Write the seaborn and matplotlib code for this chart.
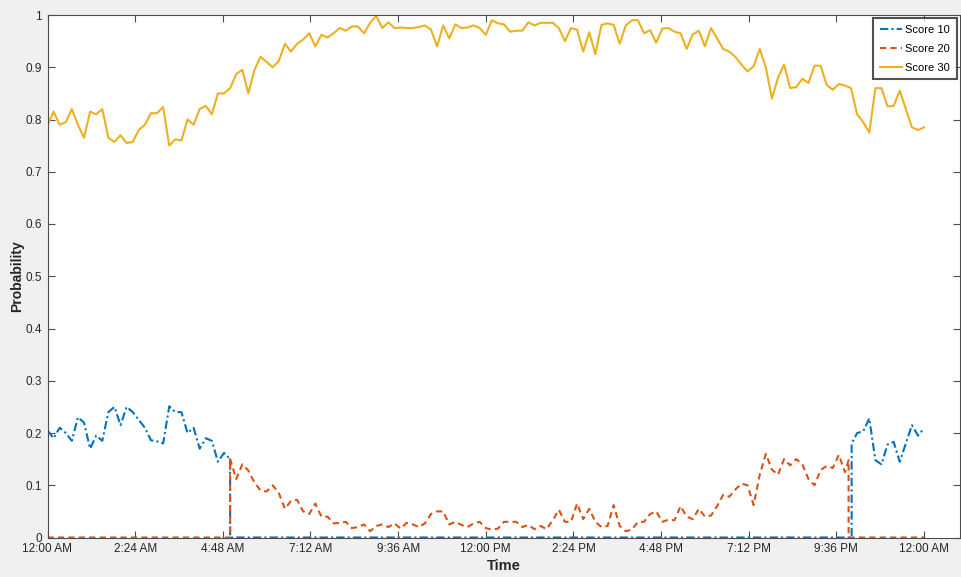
import numpy as np
import pandas as pd
import seaborn as sns
import matplotlib.pyplot as plt

plt.rcParams['font.family'] = ['Liberation Sans', 'DejaVu Sans']

# minutes since midnight, one reading every 10 minutes
minutes = np.arange(0, 1441, 10)

score30 = [0.789, 0.815, 0.79, 0.795, 0.82, 0.79, 0.765, 0.815, 0.81, 0.82,
           0.765, 0.757, 0.77, 0.755, 0.757, 0.78, 0.79, 0.812, 0.812, 0.824,
           0.75, 0.762, 0.76, 0.80, 0.79, 0.82, 0.826, 0.81, 0.85, 0.85,
           0.86, 0.887, 0.895, 0.85, 0.895, 0.92, 0.91, 0.90, 0.912, 0.945,
           0.93, 0.945, 0.953, 0.965, 0.94, 0.962, 0.957, 0.965, 0.975, 0.97,
           0.978, 0.978, 0.965, 0.985, 0.998, 0.975, 0.986, 0.975, 0.976, 0.975,
           0.975, 0.977, 0.98, 0.972, 0.94, 0.98, 0.955, 0.982, 0.975, 0.976,
           0.98, 0.975, 0.962, 0.99, 0.984, 0.982, 0.968, 0.97, 0.97, 0.986,
           0.98, 0.985, 0.985, 0.985, 0.975, 0.95, 0.975, 0.972, 0.93, 0.967,
           0.925, 0.981, 0.984, 0.981, 0.945, 0.98, 0.99, 0.99, 0.965, 0.971,
           0.947, 0.974, 0.975, 0.968, 0.965, 0.935, 0.963, 0.97, 0.94, 0.975,
           0.955, 0.935, 0.93, 0.92, 0.905, 0.892, 0.902, 0.935, 0.9, 0.84,
           0.88, 0.905, 0.86, 0.862, 0.878, 0.87, 0.903, 0.903, 0.866, 0.857,
           0.868, 0.865, 0.86, 0.81, 0.795, 0.775, 0.86, 0.86, 0.825, 0.826,
           0.855, 0.82, 0.785, 0.78, 0.785]

# Score 10 only before ~5 AM and after ~10 PM
score10_morning = [0.205, 0.19, 0.21, 0.2, 0.185, 0.23, 0.22, 0.17, 0.195, 0.185,
                   0.24, 0.25, 0.215, 0.25, 0.24, 0.225, 0.21, 0.186, 0.184, 0.18,
                   0.251, 0.24, 0.24, 0.2, 0.21, 0.17, 0.19, 0.185, 0.145, 0.162]
score10_evening = [0.2, 0.203, 0.228, 0.148, 0.14, 0.178, 0.183, 0.145, 0.18,
                   0.215, 0.195, 0.209]

# Score 20 in between
score20_day = [0.15, 0.112, 0.14, 0.128, 0.105, 0.09, 0.088, 0.10, 0.085, 0.055,
               0.07, 0.072, 0.05, 0.045, 0.065, 0.04, 0.04, 0.027, 0.028, 0.03,
               0.018, 0.02, 0.025, 0.012, 0.022, 0.025, 0.02, 0.027, 0.017, 0.028,
               0.025, 0.02, 0.027, 0.045, 0.05, 0.05, 0.025, 0.03, 0.024, 0.02,
               0.027, 0.03, 0.018, 0.015, 0.017, 0.03, 0.03, 0.03, 0.02, 0.024,
               0.016, 0.022, 0.016, 0.033, 0.053, 0.03, 0.03, 0.065, 0.035, 0.055,
               0.03, 0.02, 0.022, 0.062, 0.022, 0.012, 0.015, 0.03, 0.03, 0.045,
               0.05, 0.03, 0.034, 0.033, 0.06, 0.04, 0.035, 0.055, 0.04, 0.042,
               0.06, 0.082, 0.078, 0.092, 0.103, 0.1, 0.062, 0.12, 0.16, 0.13,
               0.12, 0.15, 0.138, 0.15, 0.14, 0.112, 0.1, 0.129, 0.137, 0.133,
               0.158, 0.125]

# hand-over between the two lower scores (minutes, value at the jump)
morning_switch = 300
score10_drop_from = 0.15
score20_switch_off = 1316
score20_drop_from = 0.148
score10_switch_on = 1321
score10_rise_to = 0.18

tick_minutes = np.arange(0, 1441, 144)
tick_labels = ['12:00 AM', '2:24 AM', '4:48 AM', '7:12 AM', '9:36 AM', '12:00 PM',
               '2:24 PM', '4:48 PM', '7:12 PM', '9:36 PM', '12:00 AM']

colors = {'Score 10': '#0072BD', 'Score 20': '#D95319', 'Score 30': '#EDB120'}

# build long table, keeping the vertical jumps in order
n_m = len(score10_morning)
n_e = len(score10_evening)
n_d = len(score20_day)
t10 = list(minutes[:n_m]) + [morning_switch, morning_switch, score10_switch_on, score10_switch_on] + list(minutes[-n_e:])
v10 = score10_morning + [score10_drop_from, 0, 0, score10_rise_to] + score10_evening
t20 = [0, morning_switch] + list(minutes[n_m:n_m + n_d]) + [score20_switch_off, score20_switch_off, 1440]
v20 = [0, 0] + score20_day + [score20_drop_from, 0, 0]

df = pd.concat([
    pd.DataFrame({'t': t10, 'p': v10, 'series': 'Score 10'}),
    pd.DataFrame({'t': t20, 'p': v20, 'series': 'Score 20'}),
    pd.DataFrame({'t': minutes, 'p': score30, 'series': 'Score 30'}),
], ignore_index=True)

fig = plt.figure(figsize=(9.61, 5.77), dpi=100, facecolor='#F0F0F0')
ax = fig.add_axes([47.5 / 961, 1 - 537.5 / 577, 912.5 / 961, 522.5 / 577])
ax.set_facecolor('white')

sns.lineplot(data=df, x='t', y='p', hue='series', style='series', palette=colors,
             dashes={'Score 10': (4, 1.5, 1, 1.5), 'Score 20': (3, 2), 'Score 30': ''},
             estimator=None, sort=False, linewidth=1.5, ax=ax)

ax.set_xlim(0, 1499)
ax.set_ylim(0, 1)
ax.set_xticks(tick_minutes)
ax.set_xticklabels(tick_labels)
ax.set_yticks(np.arange(0, 1.01, 0.1))
ax.set_yticklabels([f'{v:g}' for v in np.round(np.arange(0, 1.01, 0.1), 1)])
ax.tick_params(direction='in', length=5, width=0.8, top=True, right=True,
               labelsize=8.5, colors='#4d4d4d', labelcolor='#262626', pad=4)
for s in ax.spines.values():
    s.set_color('#4d4d4d')
    s.set_linewidth(0.8)

ax.set_xlabel('Time', fontsize=10.5, fontweight='bold', color='#262626')
ax.set_ylabel('Probability', fontsize=10, fontweight='bold', color='#262626')
ax.xaxis.set_label_coords(0.5, -0.042)
ax.yaxis.set_label_coords(-0.026, 0.5)

sns.move_legend(ax, 'upper right', bbox_to_anchor=(1.0, 1.0), title=None,
                fontsize=8, frameon=True, fancybox=False, edgecolor='#262626',
                handlelength=2.0, handletextpad=0.3, labelspacing=0.8,
                borderaxespad=0.3, borderpad=0.6)
leg = ax.get_legend()
leg.get_frame().set_linewidth(1.5)

fig.savefig('out.png', dpi=100, facecolor=fig.get_facecolor())
